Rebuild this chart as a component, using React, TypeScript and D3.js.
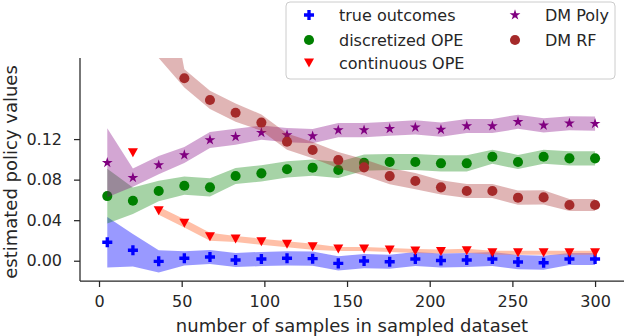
import { useEffect, useRef } from "react";
import * as d3 from "d3";

// sample sizes on the x axis
const sampleSizes = [5, 20.5, 36.1, 51.6, 67.1, 82.6, 98.2, 113.7, 129.2, 144.7, 160.3, 175.8, 191.3, 206.8, 222.4, 237.9, 253.4, 268.9, 284.5, 300];

const trueOutcomes = [0.0182, 0.0103, -0.0006, 0.0024, 0.0037, 0.0007, 0.0017, 0.0024, 0.002, -0.0026, -0.0003, -0.001, 0.0017, 0.0002, 0.0007, 0.0017, -0.0013, -0.002, 0.0017, 0.0017];
const trueOutcomesErr = [0.025, 0.016, 0.011, 0.007, 0.007, 0.007, 0.007, 0.007, 0.007, 0.007, 0.007, 0.007, 0.007, 0.007, 0.007, 0.007, 0.007, 0.007, 0.006, 0.006];

const discretizedOPE = [0.0638, 0.0592, 0.0688, 0.074, 0.0724, 0.0836, 0.0862, 0.0902, 0.0918, 0.0895, 0.0967, 0.0974, 0.0974, 0.0961, 0.0961, 0.1026, 0.0974, 0.1026, 0.101, 0.101];
const discretizedErr = [0.027, 0.013, 0.01, 0.009, 0.009, 0.008, 0.008, 0.008, 0.008, 0.008, 0.008, 0.008, 0.008, 0.008, 0.008, 0.007, 0.007, 0.007, 0.007, 0.007];

const continuousOPE = [null, 0.1066, 0.0493, 0.0369, 0.0237, 0.0214, 0.0188, 0.0162, 0.0138, 0.0115, 0.0115, 0.0106, 0.0096, 0.0091, 0.0099, 0.0079, 0.0079, 0.0079, 0.0079, 0.0079];
const continuousErr = [null, null, 0.004, 0.004, 0.004, 0.003, 0.003, 0.003, 0.003, 0.002, 0.002, 0.002, 0.002, 0.002, 0.002, 0.002, 0.002, 0.002, 0.002, 0.002];

const dmPoly = [0.0967, 0.0819, 0.0944, 0.1043, 0.1191, 0.1223, 0.1263, 0.124, 0.123, 0.1289, 0.1289, 0.1302, 0.1316, 0.1294, 0.1329, 0.1329, 0.1371, 0.1336, 0.1356, 0.1352];
const dmPolyErr = [0.034, 0.009, 0.009, 0.008, 0.008, 0.008, 0.007, 0.007, 0.007, 0.007, 0.007, 0.007, 0.007, 0.007, 0.007, 0.007, 0.007, 0.007, 0.007, 0.007];

// first points are above the visible range
const dmRF = [0.45, 0.38, 0.26, 0.18, 0.1586, 0.146, 0.1363, 0.1174, 0.1092, 0.0993, 0.0921, 0.0835, 0.0786, 0.0724, 0.0688, 0.0688, 0.0622, 0.0625, 0.055, 0.055];
const dmRFErr = [0.1, 0.1, 0.06, 0.009, 0.009, 0.009, 0.008, 0.008, 0.008, 0.008, 0.008, 0.008, 0.008, 0.007, 0.007, 0.007, 0.007, 0.007, 0.006, 0.006];

const xTicks = [0, 50, 100, 150, 200, 250, 300];
const yTicks = [0, 0.04, 0.08, 0.12];

const series = [
  { name: "true outcomes", values: trueOutcomes, err: trueOutcomesErr, color: "#0000ff", band: "#0000ff", bandOpacity: 0.4, marker: "plus" },
  { name: "discretized OPE", values: discretizedOPE, err: discretizedErr, color: "#008000", band: "#008000", bandOpacity: 0.35, marker: "circle" },
  { name: "continuous OPE", values: continuousOPE, err: continuousErr, color: "#ff0000", band: "#ff7f50", bandOpacity: 0.5, marker: "triangle" },
  { name: "DM Poly", values: dmPoly, err: dmPolyErr, color: "#800080", band: "#800080", bandOpacity: 0.35, marker: "star" },
  { name: "DM RF", values: dmRF, err: dmRFErr, color: "#a52a2a", band: "#a52a2a", bandOpacity: 0.35, marker: "circle" },
];

const FONT = "DejaVu Sans";
const INK = "#262626";

const markerPath = (kind: string) => {
  if (kind === "plus") return d3.symbol(d3.symbolCross, 56)();
  if (kind === "circle") return d3.symbol(d3.symbolCircle, 80)();
  if (kind === "star") return d3.symbol(d3.symbolStar, 36)();
  // triangle pointing down
  return "M-5,-4.5L5,-4.5L0,4.5Z";
};

export default function App() {
  const svgRef = useRef<SVGSVGElement>(null);
  const width = 626;
  const height = 336;

  useEffect(() => {
    const svg = d3.select(svgRef.current);
    svg.selectAll("*").remove();

    const left = 80, right = 624, top = 58, bottom = 281;

    const x = d3.scaleLinear().domain([-11.5, 317.5]).range([left, right]);
    const y = d3.scaleLinear().domain([-0.02, 0.2]).range([bottom, top]);

    svg.append("defs")
      .append("clipPath")
      .attr("id", "plot-clip")
      .append("rect")
      .attr("x", left)
      .attr("y", top)
      .attr("width", right - left)
      .attr("height", bottom - top);

    const plot = svg.append("g").attr("clip-path", "url(#plot-clip)");

    // bands then markers, series by series
    series.forEach((s) => {
      const rows = sampleSizes.map((n, i) => ({ n, v: s.values[i], e: s.err[i] }));
      const area = d3
        .area<any>()
        .defined((d) => d.v != null && d.e != null)
        .x((d) => x(d.n))
        .y0((d) => y(d.v - d.e))
        .y1((d) => y(d.v + d.e));

      plot.append("path")
        .datum(rows)
        .attr("fill", s.band)
        .attr("fill-opacity", s.bandOpacity)
        .attr("d", area);

      plot.selectAll(null)
        .data(rows.filter((d) => d.v != null))
        .join("path")
        .attr("transform", (d) => `translate(${x(d.n)},${y(d.v)})`)
        .attr("d", markerPath(s.marker))
        .attr("fill", s.color);
    });

    // axes
    const gx = svg.append("g").attr("transform", `translate(0,${bottom})`)
      .call(d3.axisBottom(x).tickValues(xTicks).tickSize(6).tickPadding(9).tickFormat(d3.format("d")));
    const gy = svg.append("g").attr("transform", `translate(${left},0)`)
      .call(d3.axisLeft(y).tickValues(yTicks).tickSize(6).tickPadding(12).tickFormat(d3.format(".2f")));

    [gx, gy].forEach((g) => {
      g.select(".domain").attr("stroke", INK).attr("stroke-width", 1.25);
      g.selectAll(".tick line").attr("stroke", INK).attr("stroke-width", 1.25);
      g.selectAll(".tick text").attr("fill", INK).attr("font-family", FONT).attr("font-size", 16);
    });
    gx.select(".domain").attr("d", `M${left},0H${right}`);
    gy.select(".domain").attr("d", `M0,${top}V${bottom}`);

    svg.append("text")
      .attr("x", (left + right) / 2)
      .attr("y", 332)
      .attr("text-anchor", "middle")
      .attr("font-family", FONT)
      .attr("font-size", 18)
      .attr("fill", INK)
      .text("number of samples in sampled dataset");

    svg.append("text")
      .attr("transform", `translate(17,172) rotate(-90)`)
      .attr("text-anchor", "middle")
      .attr("font-family", FONT)
      .attr("font-size", 18)
      .attr("fill", INK)
      .text("estimated policy values");

    // legend
    const legend = svg.append("g");
    legend.append("rect")
      .attr("x", 286)
      .attr("y", 2)
      .attr("width", 329)
      .attr("height", 77)
      .attr("rx", 4)
      .attr("fill", "#ffffff")
      .attr("fill-opacity", 0.8)
      .attr("stroke", "#cccccc");

    const colX = [309, 515];
    const rowY = [15, 40, 63];
    series.forEach((s, i) => {
      const cx = colX[Math.floor(i / 3)];
      const cy = rowY[i % 3];
      legend.append("path")
        .attr("transform", `translate(${cx},${cy})`)
        .attr("d", markerPath(s.marker))
        .attr("fill", s.color);
      legend.append("text")
        .attr("x", cx + 30)
        .attr("y", cy)
        .attr("dy", "0.35em")
        .attr("font-family", FONT)
        .attr("font-size", 16)
        .attr("fill", INK)
        .text(s.name);
    });
  }, []);

  return (
    <svg
      ref={svgRef}
      width={width}
      height={height}
      style={{ position: "absolute", left: 0, top: 0, background: "#fff" }}
    ></svg>
  );
}
